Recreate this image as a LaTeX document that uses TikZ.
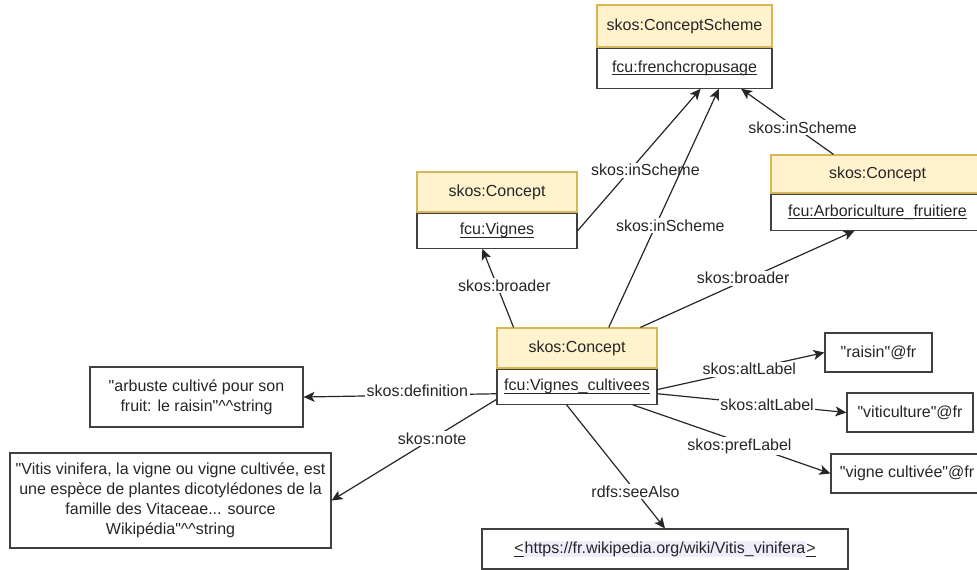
\documentclass[tikz,border=0pt]{standalone}
\usepackage{fontspec}
\setmainfont{Liberation Sans}
\usetikzlibrary{positioning,arrows.meta}
\definecolor{headfill}{HTML}{FFF2CC}
\definecolor{headline}{HTML}{D6B656}
\definecolor{linkbg}{HTML}{EDEDFB}
\newcommand{\undl}[1]{\underline{\smash{#1}}\vphantom{#1}}
\newcommand{\qt}{\textquotedbl}

\begin{document}
\begin{tikzpicture}[
    x=0.5pt, y=-0.5pt,
    every node/.style={font=\fontsize{8}{10}\selectfont, text=black!85},
    conhead/.style={rectangle, draw=headline, fill=headfill, line width=0.6pt, minimum width=80pt, minimum height=20pt, inner sep=0pt},
    conbody/.style={rectangle, draw=black!75, fill=white, line width=0.6pt, minimum width=80pt, minimum height=17.5pt, inner sep=0pt},
    literal/.style={rectangle, draw=black!75, fill=white, line width=0.6pt, minimum height=19.5pt, inner sep=0pt, align=center},
    arrow/.style={->, >={Stealth[length=5.5pt, width=5pt, inset=1.4pt]}, line width=0.6pt, draw=black!85},
    lbl/.style={fill=white, inner sep=0.8pt}
]
    \useasboundingbox (0,0) rectangle (977,569);

    % Concepts
    \node[conhead, minimum width=87.5pt, minimum height=21pt] (schemeH) at (684.5,26) {skos:ConceptScheme};
    \node[conbody, minimum width=87.5pt, minimum height=20pt, below=0pt of schemeH] (schemeB) {\undl{fcu:frenchcropusage}};

    \node[conhead] (vignesH) at (497,192) {skos:Concept};
    \node[conbody, below=0pt of vignesH] (vignesB) {\undl{fcu:Vignes}};

    \node[conhead, minimum width=106.5pt, minimum height=19pt] (arboH) at (877.5,174) {skos:Concept};
    \node[conbody, minimum width=106.5pt, minimum height=18pt, below=0pt of arboH] (arboB) {\undl{fcu:Arboriculture\_fruitiere}};

    \node[conhead] (cultH) at (577,348) {skos:Concept};
    \node[conbody, below=0pt of cultH] (cultB) {\undl{fcu:Vignes\_cultivees}};

    % Literaux
    \node[literal, minimum width=106.5pt, minimum height=30pt] (definition) at (196.5,397) {\qt arbuste cultivé pour son\\fruit: le raisin\qt\textasciicircum\textasciicircum string};
    \node[literal, minimum width=160.5pt, minimum height=47.5pt] (note) at (170.5,500.5) {\qt Vitis vinifera, la vigne ou vigne cultivée, est\\une espèce de plantes dicotylédones de la\\famille des Vitaceae... source\\Wikipédia\qt\textasciicircum\textasciicircum string};
    \node[literal, minimum width=53.5pt] (raisin) at (878.5,352.5) {\qt raisin\qt @fr};
    \node[literal, minimum width=63pt] (viti) at (910,412.5) {\qt viticulture\qt @fr};
    \node[literal, minimum width=76pt] (vcult) at (907,473.5) {\qt vigne cultivée\qt @fr};
    \node[literal, minimum width=183pt, minimum height=20pt] (wiki) at (665,549) {\undl{<}{\setlength\fboxsep{0.5pt}\colorbox{linkbg}{https://fr.wikipedia.org/wiki/Vitis\_vinifera}}\undl{>}};

    % Relations
    \draw[arrow] (vignesB.east) -- node[lbl, pos=0.48, xshift=4.4pt, yshift=-3.8pt] {skos:inScheme} (schemeB.-52);
    \draw[arrow] (cultH.33) -- node[lbl, pos=0.45, xshift=6pt, yshift=-2.8pt] {skos:inScheme} (schemeB.-31);
    \draw[arrow] (arboH.156) -- node[lbl, pos=0.36, xshift=1.2pt, yshift=1.7pt] {skos:inScheme} (schemeB.-20);
    \draw[arrow] (cultH.162) -- node[lbl, pos=0.5, xshift=3.2pt, yshift=1.4pt] {skos:broader} (vignesB.-129);
    \draw[arrow] (cultH.18) -- node[lbl, pos=0.48, yshift=1.5pt] {skos:broader} (arboB.-141);
    \draw[arrow] (cultB.185) -- node[lbl, pos=0.41, yshift=2pt] {skos:definition} (definition.east);
    \draw[arrow] (cultB.189) -- node[lbl, pos=0.39] {skos:note} (note.east);
    \draw[arrow] (cultB.-2) -- node[lbl, pos=0.55] {skos:altLabel} (raisin.west);
    \draw[arrow] (cultB.-5) -- node[lbl, pos=0.58] {skos:altLabel} (viti.west);
    \draw[arrow] (cultB.-18) -- node[lbl, pos=0.54, yshift=-2pt] {skos:prefLabel} (vcult.west);
    \draw[arrow] (cultB.-120) -- node[lbl, pos=0.7] {rdfs:seeAlso} (wiki.north);
\end{tikzpicture}
\end{document}
